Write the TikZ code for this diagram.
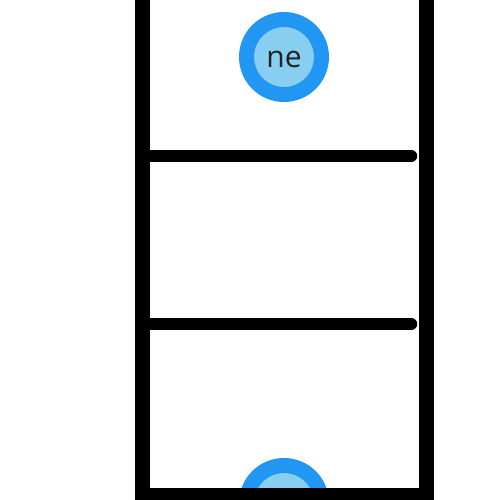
\documentclass[tikz,border=0pt]{standalone}
\usepackage{fontspec}
\setmainfont{Open Sans}
\definecolor{ringblue}{RGB}{33,150,243}
\definecolor{innerblue}{RGB}{135,206,240}
\definecolor{txtgray}{RGB}{35,35,35}
\begin{document}
\begin{tikzpicture}[x=1pt,y=-1pt,
  token/.style={circle,draw=ringblue,fill=innerblue,line width=15pt,minimum size=75pt,inner sep=0pt,text=txtgray,font=\fontsize{30}{32}\selectfont},
  wall/.style={line width=15pt},
  rung/.style={line width=12.5pt}]
\useasboundingbox[fill=white] (0,0) rectangle (500,500);
\node[token] (top) at (284,57) {\raisebox{-11pt}[0pt][0pt]{ne}};
\node[token] (bot) at (284,503) {};
\coordinate (lt) at (142,0);
\coordinate (lb) at (142,500);
\coordinate (rt) at (426,0);
\coordinate (rb) at (426,500);
\coordinate (h1l) at (142,156);
\coordinate (h1r) at (411,156);
\coordinate (h2l) at (142,324);
\coordinate (h2r) at (411,324);
\coordinate (bl) at (135,494);
\coordinate (br) at (433,494);
\draw[wall] (lt) -- (lb);
\draw[wall] (rt) -- (rb);
\draw[rung,line cap=round] (h1l) -- (h1r);
\draw[rung,line cap=round] (h2l) -- (h2r);
\draw[rung] (bl) -- (br);
\end{tikzpicture}
\end{document}
